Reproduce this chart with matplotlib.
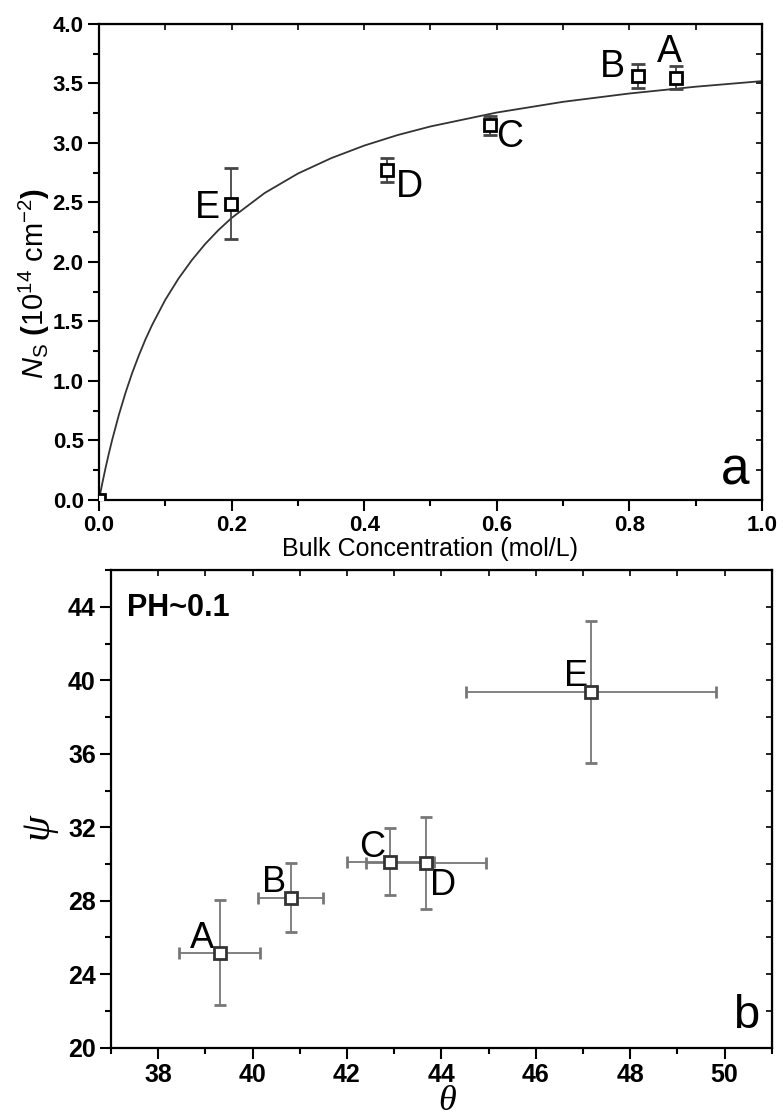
import numpy as np
import matplotlib
matplotlib.use("Agg")
import matplotlib.pyplot as plt
from matplotlib.ticker import MultipleLocator

plt.rcParams['font.family'] = ['Liberation Sans', 'DejaVu Sans']
plt.rcParams['mathtext.fontset'] = 'custom'
plt.rcParams['mathtext.rm'] = 'Liberation Sans'
plt.rcParams['mathtext.it'] = 'Liberation Sans:italic'
plt.rcParams['mathtext.bf'] = 'Liberation Sans:bold'

# ---------------- Panel a data ----------------
conc_labels = ['A', 'B', 'C', 'D', 'E']
conc = [0.870, 0.813, 0.590, 0.435, 0.199]
ns = [3.55, 3.56, 3.15, 2.77, 2.49]
ns_err = [0.10, 0.10, 0.08, 0.10, 0.30]
origin_x = [0.0]
origin_y = [0.0]

# fitted curve
fit_x = [0.0, 0.005, 0.01, 0.015, 0.02, 0.03, 0.04, 0.05, 0.06, 0.07, 0.08, 0.1,
         0.12, 0.14, 0.16, 0.18, 0.2, 0.25, 0.3, 0.35, 0.4, 0.45, 0.5, 0.6, 0.7,
         0.8, 0.9, 1.0]
fit_y = [0.0, 0.140, 0.271, 0.393, 0.507, 0.715, 0.900, 1.066, 1.213, 1.348,
         1.469, 1.682, 1.861, 2.015, 2.150, 2.267, 2.370, 2.580, 2.743, 2.872,
         2.978, 3.066, 3.139, 3.256, 3.346, 3.416, 3.473, 3.520]

# ---------------- Panel b data ----------------
ang_labels = ['A', 'B', 'C', 'D', 'E']
theta = [39.30, 40.81, 42.92, 43.67, 47.17]
theta_err = [0.86, 0.69, 0.92, 1.27, 2.64]
psi = [25.18, 28.17, 30.13, 30.05, 39.35]
psi_err = [2.87, 1.88, 1.83, 2.50, 3.87]

fig = plt.figure(figsize=(7.83, 11.16), dpi=100)


def style_axes(ax, labelsize):
    ax.tick_params(which='major', direction='out', length=8, width=1.5,
                   labelsize=labelsize, top=False, right=False, pad=3)
    ax.tick_params(which='minor', direction='out', length=4.5, width=1.5,
                   top=False, right=False)
    for lab in ax.get_xticklabels() + ax.get_yticklabels():
        lab.set_fontweight('bold')
    for s in ax.spines.values():
        s.set_linewidth(1.6)


# ================= Panel a =================
ax1 = fig.add_axes([0.1264, 0.5520, 0.8468, 0.4265])
ax1.plot(fit_x, fit_y, color='#333333', lw=1.3, zorder=2)
ax1.errorbar(conc, ns, yerr=ns_err, fmt='s', ms=9, mfc='white', mec='black',
             mew=2.0, ecolor='#444444', elinewidth=1.3, capsize=5, capthick=1.3,
             zorder=3)
ax1.plot(origin_x, origin_y, 's', ms=9, mfc='white', mec='black', mew=2.0,
         zorder=3, clip_on=True)
ax1.set_xlim(0, 1.0)
ax1.set_ylim(0, 4.0)
ax1.xaxis.set_major_locator(MultipleLocator(0.2))
ax1.xaxis.set_minor_locator(MultipleLocator(0.1))
ax1.yaxis.set_major_locator(MultipleLocator(0.5))
ax1.yaxis.set_minor_locator(MultipleLocator(0.25))
ax1.xaxis.set_major_formatter(plt.FuncFormatter(lambda v, p: f"{v:.1f}"))
ax1.yaxis.set_major_formatter(plt.FuncFormatter(lambda v, p: f"{v:.1f}"))
style_axes(ax1, 16)
sx = ax1.secondary_xaxis('top')
sx.xaxis.set_major_locator(MultipleLocator(0.1))
sx.tick_params(which='both', direction='in', length=4, width=1.2, labeltop=False)
sy = ax1.secondary_yaxis('right')
sy.yaxis.set_major_locator(MultipleLocator(0.25))
sy.tick_params(which='both', direction='in', length=4, width=1.2, labelright=False)

ax1.set_xlabel('Bulk Concentration (mol/L)', fontsize=18, va='center')
ax1.xaxis.set_label_coords(0.5, -0.103)
ax1.set_ylabel(r'$\mathit{N}_{\mathrm{S}}$ $\mathbf{(}$10$^{\mathrm{14}}$ cm$^{\mathrm{-2}}$$\mathbf{)}$',
               fontsize=21, va='center')
ax1.yaxis.set_label_coords(-0.098, 0.455)

lab_pos_a = {'A': (0.860, 3.683), 'B': (0.774, 3.557), 'C': (0.620, 2.969),
             'D': (0.468, 2.549), 'E': (0.163, 2.367)}
for lab in conc_labels:
    x, y = lab_pos_a[lab]
    ax1.text(x, y, lab, fontsize=27, ha='center', va='baseline')
ax1.text(0.959, 0.126, 'a', fontsize=37, ha='center', va='baseline')

# ================= Panel b =================
ax2 = fig.add_axes([0.1418, 0.0612, 0.8438, 0.4280])
ax2.errorbar(theta, psi, xerr=theta_err, yerr=psi_err, fmt='s', ms=9,
             mfc='white', mec='#333333', mew=2.0, ecolor='#777777',
             elinewidth=1.3, capsize=4, capthick=1.3, zorder=3)
ax2.set_xlim(37, 51)
ax2.set_ylim(20, 46)
ax2.xaxis.set_major_locator(MultipleLocator(2))
ax2.xaxis.set_minor_locator(MultipleLocator(1))
ax2.yaxis.set_major_locator(MultipleLocator(4))
ax2.yaxis.set_minor_locator(MultipleLocator(2))
style_axes(ax2, 18)
sx2 = ax2.secondary_xaxis('top')
sx2.xaxis.set_major_locator(MultipleLocator(1))
sx2.tick_params(which='both', direction='in', length=4, width=1.2, labeltop=False)
sy2 = ax2.secondary_yaxis('right')
sy2.yaxis.set_major_locator(MultipleLocator(2))
sy2.tick_params(which='both', direction='in', length=4, width=1.2, labelright=False)

ax2.set_xlabel('θ', fontsize=26, va='center', family=['Liberation Serif'],
               style='italic')
ax2.xaxis.set_label_coords(0.508, -0.113)
ax2.set_ylabel('ψ', fontsize=30, va='center', family=['Liberation Serif'],
               style='italic')
ax2.yaxis.set_label_coords(-0.112, 0.464)

lab_pos_b = {'A': (38.92, 25.40), 'B': (40.46, 28.48), 'C': (42.54, 30.38),
             'D': (44.03, 28.30), 'E': (46.85, 39.71)}
for lab in ang_labels:
    x, y = lab_pos_b[lab]
    ax2.text(x, y, lab, fontsize=26, ha='center', va='baseline')
ax2.text(50.46, 21.05, 'b', fontsize=34, ha='center', va='baseline')
ax2.text(37.34, 43.52, 'PH~0.1', fontsize=22, fontweight='bold', ha='left',
         va='baseline')

fig.savefig('out.png', dpi=100)
